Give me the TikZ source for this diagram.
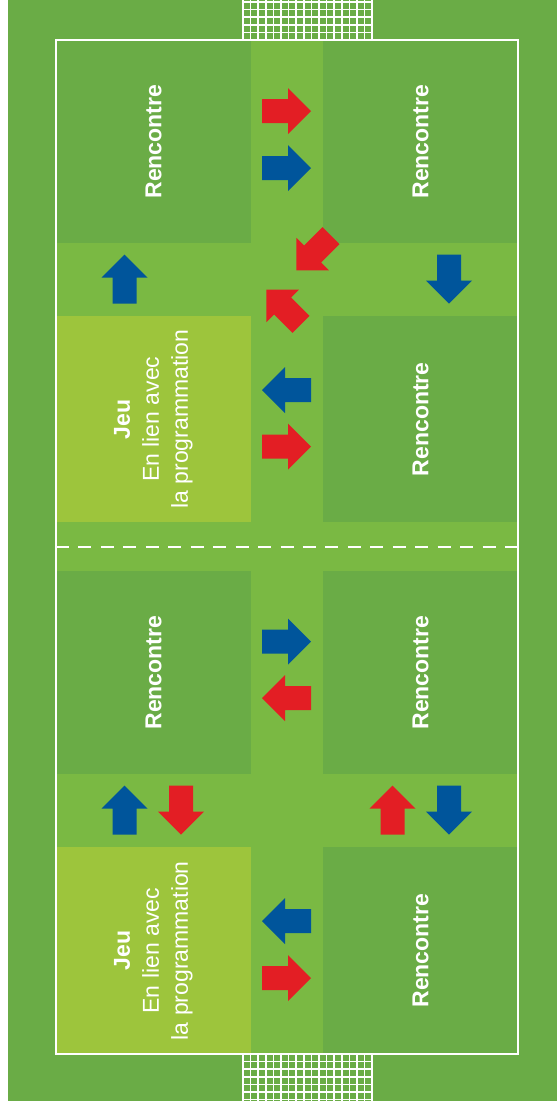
\documentclass[tikz,border=0pt]{standalone}
\usepackage{fontspec}
\setmainfont{Liberation Sans}
\usepackage{tikz}
\definecolor{terrain}{HTML}{6AAC46}
\definecolor{couloir}{HTML}{7AB943}
\definecolor{jeu}{HTML}{9DC53C}
\definecolor{rouge}{HTML}{E31E24}
\definecolor{bleu}{HTML}{00559B}
\begin{document}
\begin{tikzpicture}[x=1pt, y=-1pt,
zone/.style={rectangle, fill=terrain, inner sep=0pt, anchor=north west, minimum width=194.5pt},
jeuzone/.style={zone, fill=jeu},
texte/.style={text=white, font=\fontsize{23}{29}\selectfont, align=center, rotate=90},
ligne/.style={white, line width=2.3pt},
filet/.style={white, line width=1.5pt},
fleche/.pic={\fill (-24.5,-12) -- (1.5,-12) -- (1.5,-23) -- (24.5,0) -- (1.5,23) -- (1.5,12) -- (-24.5,12) -- cycle;}]
\useasboundingbox (0,0) rectangle (557,1109);
\fill[terrain] (8,0) rectangle (557,1101);
\fill[couloir] (56,40) rectangle (518,1054);
% zones
\node[zone, minimum height=203pt] (r1) at (56,40) {};
\node[zone, minimum height=203pt] (r2) at (323,40) {};
\node[jeuzone, minimum height=206pt] (j1) at (56,316) {};
\node[zone, minimum height=206pt] (r3) at (323,316) {};
\node[zone, minimum height=203pt] (r4) at (56,571) {};
\node[zone, minimum height=203pt] (r5) at (323,571) {};
\node[jeuzone, minimum height=207pt] (j2) at (56,847) {};
\node[zone, minimum height=207pt] (r6) at (323,847) {};
% textes
\node[texte] (t1) at (r1) {\textbf{Rencontre}};
\node[texte] (t2) at (r2) {\textbf{Rencontre}};
\node[texte] (t3) at (j1) {\textbf{Jeu}\\En lien avec\\la programmation};
\node[texte] (t4) at (r3) {\textbf{Rencontre}};
\node[texte] (t5) at (r4) {\textbf{Rencontre}};
\node[texte] (t6) at (r5) {\textbf{Rencontre}};
\node[texte] (t7) at (j2) {\textbf{Jeu}\\En lien avec\\la programmation};
\node[texte] (t8) at (r6) {\textbf{Rencontre}};
% lignes et filets
\draw[ligne] (56,40) rectangle (518,1054);
\draw[ligne, dash pattern=on 13pt off 9.45pt] (56,547) -- (518,547);
\foreach \i in {0,...,17} {
  \draw[filet] (243+\i*7.6,0) -- (243+\i*7.6,40);
  \draw[filet] (243+\i*7.6,1054) -- (243+\i*7.6,1101);
}
\foreach \j in {0,...,5} \draw[filet] (243,40-\j*7.6) -- (372.2,40-\j*7.6);
\foreach \j in {0,...,6} \draw[filet] (243,1054+\j*7.6) -- (372.2,1054+\j*7.6);
% fleches
\pic[rouge] (f1) at (286.5,111) {fleche};
\pic[bleu] (f2) at (286.5,168) {fleche};
\pic[rouge, rotate=-135] (f3) at (313.7,253) {fleche};
\pic[rouge, rotate=135] (f4) at (283.7,307) {fleche};
\pic[bleu, rotate=90] (f5) at (124.5,279) {fleche};
\pic[bleu, rotate=-90] (f6) at (449,279) {fleche};
\pic[bleu, rotate=180] (f7) at (286.5,390) {fleche};
\pic[rouge] (f8) at (286.5,446.5) {fleche};
\pic[bleu] (f9) at (286.5,641.5) {fleche};
\pic[rouge, rotate=180] (f10) at (286.5,698) {fleche};
\pic[bleu, rotate=90] (f11) at (124.5,810) {fleche};
\pic[rouge, rotate=-90] (f12) at (181,810) {fleche};
\pic[rouge, rotate=90] (f13) at (392.5,810) {fleche};
\pic[bleu, rotate=-90] (f14) at (449,810) {fleche};
\pic[bleu, rotate=180] (f15) at (286.5,921) {fleche};
\pic[rouge] (f16) at (286.5,978) {fleche};
\end{tikzpicture}
\end{document}
